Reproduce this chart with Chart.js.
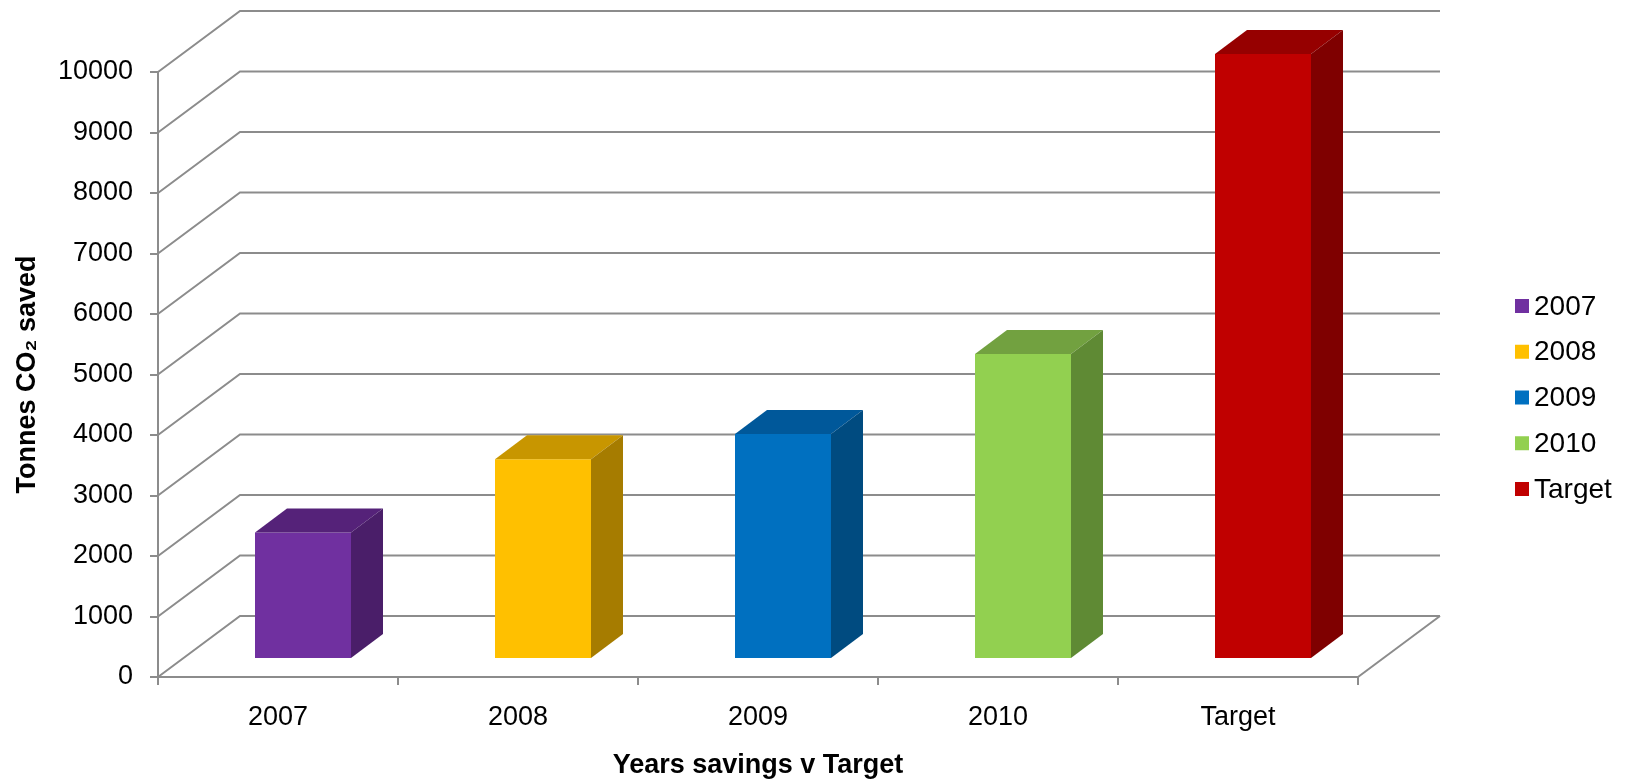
<!DOCTYPE html>
<html>
<head>
<meta charset="utf-8">
<title>Years savings v Target</title>
<script src="https://cdn.jsdelivr.net/npm/chart.js@4.4.1/dist/chart.umd.min.js"></script>
<style>
  html, body { margin: 0; padding: 0; background: #fff; }
</style>
</head>
<body>
<canvas id="savingsChart" width="1628" height="784"></canvas>
<script>
// values
var categories = ['2007', '2008', '2009', '2010', 'Target'];
var tonnesSaved = [2090, 3300, 3720, 5040, 10000];
var yTickValues = [0, 1000, 2000, 3000, 4000, 5000, 6000, 7000, 8000, 9000, 10000];

var frontColors = ['#7030A0', '#FFC000', '#0070C0', '#92D050', '#C00000'];
var topColors = ['#552279', '#C89600', '#00589A', '#72A140', '#960000'];
var sideColors = ['#4A1E69', '#A67C00', '#004B80', '#5F8A34', '#7F0000'];

var gridColor = '#8c8c8c';
// oblique depth of the floor, of the bar front plane and of a bar
var floorDepth = { dx: 82, dy: -61 };
var barShift = { dx: 25, dy: -18 };
var barDepth = { dx: 32, dy: -24 };

Chart.defaults.font.family = '"Liberation Sans", Arial, sans-serif';
Chart.defaults.font.size = 27;
Chart.defaults.color = '#000';

var box3d = {
  id: 'box3d',
  beforeDatasetsDraw: function(chart) {
    var ctx = chart.ctx;
    var area = chart.chartArea;
    var yScale = chart.scales.y;
    ctx.save();
    ctx.strokeStyle = gridColor;
    ctx.lineWidth = 2;
    // left wall diagonals + back wall lines
    yTickValues.forEach(function(v) {
      var y = yScale.getPixelForValue(v);
      ctx.beginPath();
      ctx.moveTo(area.left, y);
      ctx.lineTo(area.left + floorDepth.dx, y + floorDepth.dy);
      ctx.lineTo(area.right + floorDepth.dx, y + floorDepth.dy);
      ctx.stroke();
    });
    // floor right edge
    ctx.beginPath();
    ctx.moveTo(area.right, area.bottom);
    ctx.lineTo(area.right + floorDepth.dx, area.bottom + floorDepth.dy);
    ctx.stroke();
    ctx.restore();

    ctx.save();
    ctx.translate(barShift.dx, barShift.dy);
  },
  afterDatasetsDraw: function(chart) {
    var ctx = chart.ctx;
    var meta = chart.getDatasetMeta(0);
    meta.data.forEach(function(bar, i) {
      var p = bar.getProps(['x', 'y', 'base', 'width'], true);
      var l = p.x - p.width / 2, r = p.x + p.width / 2;
      // top face
      ctx.fillStyle = topColors[i];
      ctx.beginPath();
      ctx.moveTo(l, p.y);
      ctx.lineTo(l + barDepth.dx, p.y + barDepth.dy);
      ctx.lineTo(r + barDepth.dx, p.y + barDepth.dy);
      ctx.lineTo(r, p.y);
      ctx.closePath();
      ctx.fill();
      // side face
      ctx.fillStyle = sideColors[i];
      ctx.beginPath();
      ctx.moveTo(r, p.y);
      ctx.lineTo(r + barDepth.dx, p.y + barDepth.dy);
      ctx.lineTo(r + barDepth.dx, p.base + barDepth.dy);
      ctx.lineTo(r, p.base);
      ctx.closePath();
      ctx.fill();
    });
    ctx.restore();
  },
  afterDraw: function(chart) {
    // legend, one entry per category
    var ctx = chart.ctx;
    var x = chart.chartArea.right + 157;
    var y0 = 306, step = 45.75;
    ctx.save();
    ctx.font = '28px "Liberation Sans", Arial, sans-serif';
    ctx.textBaseline = 'middle';
    ctx.textAlign = 'left';
    categories.forEach(function(label, i) {
      var cy = y0 + i * step;
      ctx.fillStyle = frontColors[i];
      ctx.fillRect(x, cy - 7, 14, 14);
      ctx.fillStyle = '#000';
      ctx.fillText(label, x + 19, cy + 1);
    });
    ctx.restore();
  }
};

var ctx = document.getElementById('savingsChart').getContext('2d');
var savingsChart = new Chart(ctx, {
  type: 'bar',
  data: {
    labels: categories,
    datasets: [{
      label: 'Tonnes CO2 saved',
      data: tonnesSaved,
      backgroundColor: frontColors,
      borderWidth: 0,
      barPercentage: 0.4,
      categoryPercentage: 1.0,
      clip: false
    }]
  },
  options: {
    responsive: false,
    animation: false,
    layout: { padding: { top: 72, right: 270, bottom: 0, left: 0 } },
    plugins: {
      legend: { display: false },
      tooltip: { enabled: false }
    },
    scales: {
      x: {
        grid: { offset: true, drawOnChartArea: false, tickLength: 8, color: gridColor, lineWidth: 2 },
        border: { color: gridColor, width: 2 },
        ticks: { padding: 16, font: { size: 27 } },
        title: {
          display: true,
          text: 'Years savings v Target',
          font: { size: 27, weight: 'bold' },
          padding: { top: 0, bottom: 2 }
        },
        afterFit: function(scale) { scale.height = 107; }
      },
      y: {
        min: 0,
        max: 10000,
        ticks: {
          stepSize: 1000,
          padding: 17,
          font: { size: 27 },
          callback: function(value) { return String(value); }
        },
        grid: { drawOnChartArea: false, tickLength: 8, color: gridColor, lineWidth: 2 },
        border: { color: gridColor, width: 2 },
        title: {
          display: true,
          text: 'Tonnes CO₂ saved',
          font: { size: 27, weight: 'bold' },
          padding: { top: 11, bottom: 0 }
        },
        afterFit: function(scale) { scale.width = 158; }
      }
    }
  },
  plugins: [box3d]
});
</script>
</body>
</html>
